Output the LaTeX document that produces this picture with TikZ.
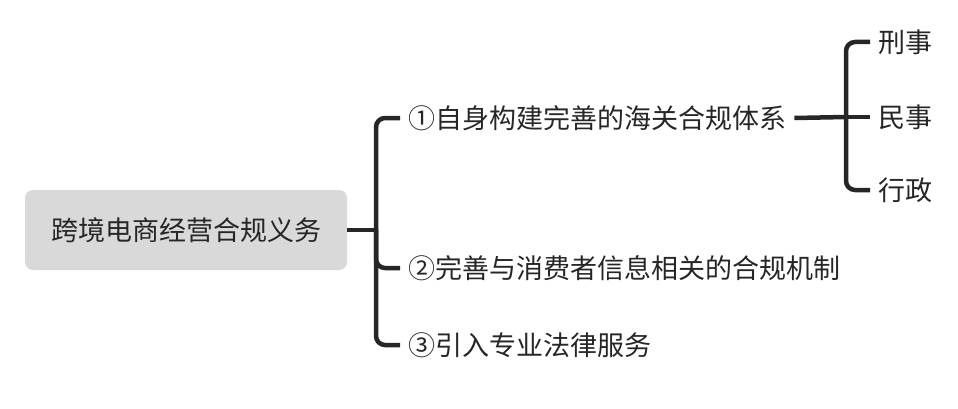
\documentclass[tikz,border=0pt]{standalone}
\usepackage{fontspec}
\setmainfont{Noto Sans CJK SC}
\usetikzlibrary{positioning}
\definecolor{rootgray}{HTML}{D9D9D9}
\definecolor{linedark}{HTML}{262626}
\tikzset{
  rootbox/.style={fill=rootgray,rounded corners=8pt,minimum width=322pt,minimum height=80pt,font=\fontsize{27}{30}\selectfont,text=linedark},
  leaf/.style={anchor=west,inner xsep=8pt,inner ysep=2pt,font=\fontsize{27}{30}\selectfont,text=linedark},
  branch/.style={draw=linedark,line width=4.5pt,rounded corners=9pt}
}
\begin{document}
\begin{tikzpicture}[x=1pt,y=1pt]
\useasboundingbox (0,0) rectangle (958,408);

\node[rootbox] (root) at (186,178) {跨境电商经营合规义务};

\node[leaf] (c1) at (400,290) {①自身构建完善的海关合规体系};
\node[leaf] (c2) at (400,140) {②完善与消费者信息相关的合规机制};
\node[leaf] (c3) at (400,63) {③引入专业法律服务};

\node[leaf] (g1) at (870,366) {刑事};
\node[leaf] (g2) at (870,291) {民事};
\node[leaf] (g3) at (870,218) {行政};

\coordinate (s1) at (376,178);
\coordinate (s2) at (846,291);

% first level
\draw[branch] (root.east) -- (s1);
\draw[branch] (s1) |- (c1.west);
\draw[branch] (s1) |- (c2.west);
\draw[branch] (s1) |- (c3.west);

% second level
\draw[branch] (c1.east) -- (s2);
\draw[branch] (s2) |- (g1.west);
\draw[branch] (s2) -- (g2.west);
\draw[branch] (s2) |- (g3.west);
\end{tikzpicture}
\end{document}
